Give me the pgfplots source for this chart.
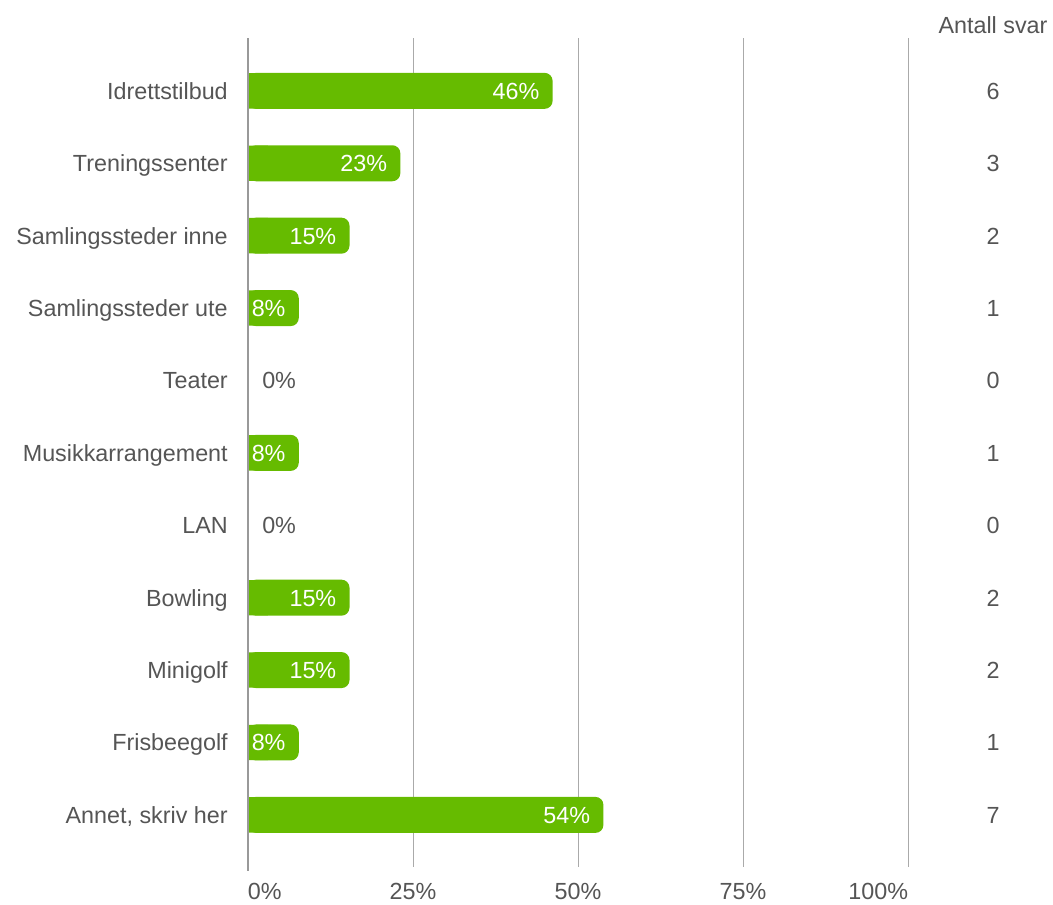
\documentclass[border=0pt]{standalone}
\usepackage{pgfplots}
\usepackage{pgfplotstable}
\pgfplotsset{compat=1.18}
\usepackage{fontspec}
\setmainfont{Liberation Sans}
\definecolor{barg}{HTML}{66BB00}
\definecolor{txt}{HTML}{555555}
\definecolor{grd}{HTML}{AAAAAA}
\definecolor{axl}{HTML}{999999}

\pgfplotstableread{
y val lab n
0 46.15 46 6
1 23.08 23 3
2 15.38 15 2
3 7.69 8 1
4 0 0 0
5 7.69 8 1
6 0 0 0
7 15.38 15 2
8 15.38 15 2
9 7.69 8 1
10 53.85 54 7
}\data

\newcommand\lbl{\fontsize{17.5}{21}\selectfont}

\begin{document}
\begin{tikzpicture}
\path[use as bounding box] (0,0) rectangle (789.75pt,678pt);
\begin{axis}[
  at={(186pt,27.75pt)}, anchor=south west,
  scale only axis, width=495pt, height=621.75pt,
  xmin=0, xmax=100, ymin=-0.73, ymax=10.72, y dir=reverse,
  ytick={0,...,10},
  yticklabels={Idrettstilbud,Treningssenter,Samlingssteder inne,Samlingssteder ute,Teater,Musikkarrangement,LAN,Bowling,Minigolf,Frisbeegolf,{Annet, skriv her}},
  xtick={0,25,50,75,100},
  xticklabels={\makebox[0pt][l]{0\%},25\%,50\%,75\%,\makebox[0pt][r]{100\%}},
  xmajorgrids, grid style={grd, line width=0.75pt},
  axis line style={draw=none}, major tick length=0pt,
  tick label style={font=\lbl, text=txt},
  yticklabel style={anchor=base east, inner sep=0pt, xshift=-15pt, yshift=-6.3pt},
  xticklabel style={anchor=base, yshift=-24pt},
  clip=false,
]
% bars with rounded ends
\addplot[xbar, bar width=27pt, bar shift=0pt, fill=barg, draw=none, rounded corners=6pt]
  table[x=val, y=y]{\data};
% square off the left end
\addplot[xbar, bar width=26.5pt, bar shift=0pt, fill=barg, draw=none]
  table[x expr={min(\thisrow{val},3)}, y=y]{\data};
\draw[axl, line width=1.5pt] (axis cs:0,-0.73) -- (axis cs:0,10.77);
% percentage labels inside bars
\addplot[draw=none, mark=none, restrict x to domain=0.5:200,
  point meta=explicit symbolic, nodes near coords={\pgfplotspointmeta\%},
  every node near coord/.style={anchor=base east, text=white, xshift=-9.75pt, yshift=-6.3pt, inner sep=0pt, font=\lbl}]
  table[x=val, y=y, meta=lab]{\data};
% zero labels
\addplot[draw=none, mark=none, restrict x to domain=-1:0.5,
  point meta=explicit symbolic, nodes near coords={\pgfplotspointmeta\%},
  every node near coord/.style={anchor=base west, text=txt, xshift=10.5pt, yshift=-6.3pt, inner sep=0pt, font=\lbl}]
  table[x=val, y=y, meta=lab]{\data};
% counts column
\addplot[draw=none, mark=none,
  point meta=explicit symbolic, nodes near coords={\pgfplotspointmeta},
  every node near coord/.style={anchor=base, text=txt, yshift=-6.3pt, inner sep=0pt, font=\lbl}]
  table[x expr=112.9, y=y, meta=n]{\data};
\end{axis}
\node[text=txt, font=\lbl, inner sep=0pt, anchor=base] at (744.75pt,652.5pt) {Antall svar};
\end{tikzpicture}
\end{document}
